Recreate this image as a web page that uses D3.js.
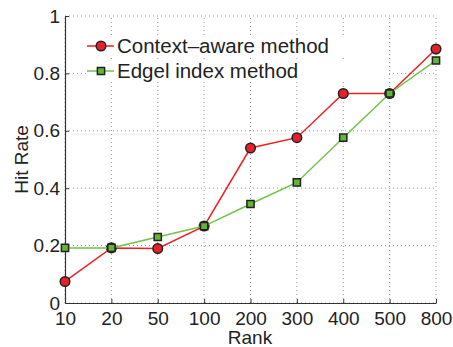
<!DOCTYPE html>
<html>
<head>
<meta charset="utf-8">
<script src="https://cdn.jsdelivr.net/npm/d3@7"></script>
<style>
  body { margin: 0; background: #fff; }
  text { font-family: "Liberation Sans", Arial, sans-serif; fill: #222; }
</style>
</head>
<body>
<svg id="chart" width="453" height="347"></svg>
<script>
// Data
const ranks = ["10", "20", "50", "100", "200", "300", "400", "500", "800"];
const contextAware = [0.075, 0.192, 0.19, 0.268, 0.54, 0.576, 0.73, 0.73, 0.885];
const edgelIndex = [0.192, 0.192, 0.23, 0.268, 0.345, 0.42, 0.576, 0.73, 0.845];
const yTicks = [0, 0.2, 0.4, 0.6, 0.8, 1];
const seriesNames = ["Context\u2013aware method", "Edgel index method"];

const svg = d3.select("#chart");
const margin = { left: 65, right: 17, top: 16, bottom: 44 };
const width = 453, height = 347;

const x = d3.scalePoint().domain(ranks).range([margin.left, width - margin.right]);
const y = d3.scaleLinear().domain([0, 1]).range([height - margin.bottom, margin.top]);

// Grid
const grid = svg.append("g").attr("stroke", "#999").attr("stroke-width", 1).attr("stroke-dasharray", "1,3");
grid.selectAll(".gx").data(ranks).enter().append("line")
    .attr("x1", d => x(d)).attr("x2", d => x(d))
    .attr("y1", y(0)).attr("y2", y(1));
grid.selectAll(".gy").data(yTicks).enter().append("line")
    .attr("x1", x.range()[0]).attr("x2", x.range()[1])
    .attr("y1", d => y(d)).attr("y2", d => y(d));

// Axes (ticks inward)
const xAxis = svg.append("g").attr("transform", `translate(0,${y(0)})`)
    .call(d3.axisBottom(x).tickSizeInner(-4).tickSizeOuter(0).tickPadding(9));
const yAxis = svg.append("g").attr("transform", `translate(${x.range()[0]},0)`)
    .call(d3.axisLeft(y).tickValues(yTicks).tickFormat(d3.format("~g")).tickSizeInner(-4).tickSizeOuter(0).tickPadding(5));
[xAxis, yAxis].forEach(a => {
    a.select(".domain").attr("stroke", "#333").attr("stroke-width", 1.2);
    a.selectAll(".tick line").attr("stroke", "#333");
    a.selectAll("text").attr("font-size", 19).attr("fill", "#222")
        .attr("font-family", "'Liberation Sans', Arial, sans-serif");
});

svg.append("text").attr("x", 250).attr("y", 344).attr("text-anchor", "middle")
    .attr("font-size", 19).text("Rank");
svg.append("text").attr("transform", `translate(28,${(y(0) + y(1)) / 2}) rotate(-90)`)
    .attr("text-anchor", "middle").attr("font-size", 19).text("Hit Rate");

const line = d3.line().x((d, i) => x(ranks[i])).y(d => y(d));

function drawSeries(values, color, fill, shape) {
    svg.append("path").datum(values).attr("d", line)
        .attr("fill", "none").attr("stroke", color).attr("stroke-width", 1.5);
    const sym = d3.symbol().type(shape === "circle" ? d3.symbolCircle : d3.symbolSquare)
        .size(shape === "circle" ? 72 : 52);
    svg.selectAll(null).data(values).enter().append("path")
        .attr("d", sym)
        .attr("transform", (d, i) => `translate(${x(ranks[i])},${y(d)})`)
        .attr("fill", fill).attr("stroke", "#222").attr("stroke-width", 1.5);
}

drawSeries(contextAware, "#ee2020", "#e8202a", "circle");
drawSeries(edgelIndex, "#70c24a", "#63b536", "square");

// Legend
const legend = svg.append("g");
const legendRows = [
    { name: seriesNames[0], color: "#ee2020", fill: "#e8202a", shape: d3.symbolCircle, size: 72 },
    { name: seriesNames[1], color: "#70c24a", fill: "#63b536", shape: d3.symbolSquare, size: 52 }
];
legendRows.forEach((r, i) => {
    const ly = 46 + i * 25;
    legend.append("rect").attr("x", 86).attr("y", ly - 11).attr("width", 300).attr("height", 22).attr("fill", "#fff");
    legend.append("line").attr("x1", 87).attr("x2", 114).attr("y1", ly).attr("y2", ly)
        .attr("stroke", r.color).attr("stroke-width", 1.5);
    legend.append("path").attr("d", d3.symbol().type(r.shape).size(r.size))
        .attr("transform", `translate(101,${ly})`)
        .attr("fill", r.fill).attr("stroke", "#222").attr("stroke-width", 1.5);
    legend.append("text").attr("x", 117).attr("y", ly + 7).attr("font-size", 20.5).text(r.name);
});
</script>
</body>
</html>
